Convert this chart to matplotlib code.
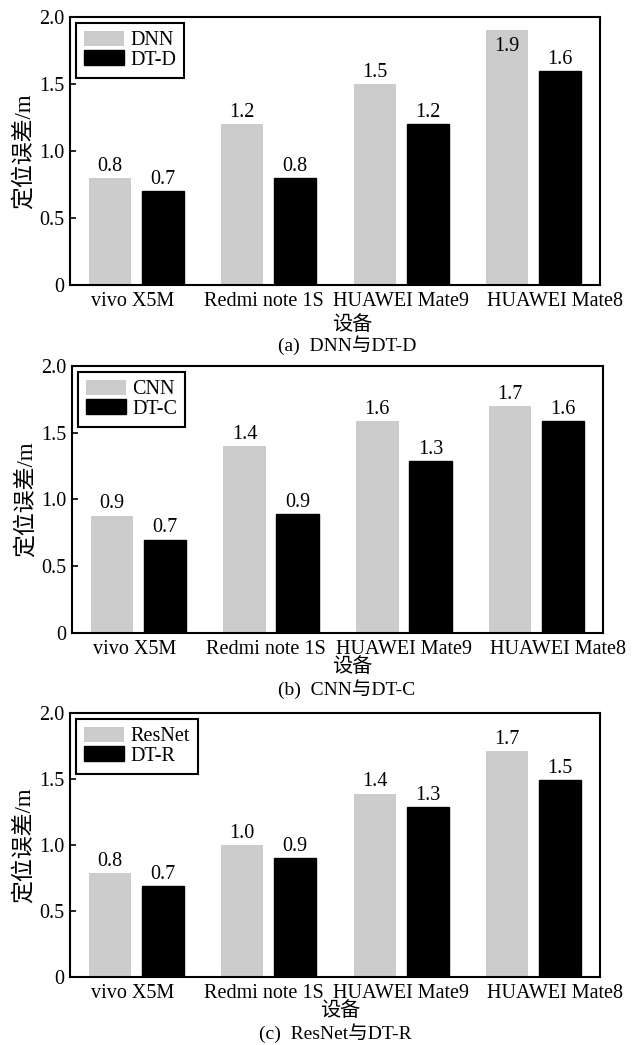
import matplotlib
matplotlib.use("Agg")
import matplotlib.pyplot as plt
import numpy as np
from matplotlib.ticker import FuncFormatter

plt.rcParams['font.family'] = ['Liberation Serif', 'Noto Sans CJK SC']
plt.rcParams['font.size'] = 14.5

devices = ["vivo X5M", "Redmi note 1S", "HUAWEI Mate9", "HUAWEI Mate8"]

base_names = ["DNN", "CNN", "ResNet"]
dt_names = ["DT-D", "DT-C", "DT-R"]
captions = ["(a)  DNN与DT-D", "(b)  CNN与DT-C", "(c)  ResNet与DT-R"]

dnn = [0.80, 1.20, 1.50, 1.90]
dt_d = [0.70, 0.80, 1.20, 1.60]
cnn = [0.88, 1.40, 1.59, 1.70]
dt_c = [0.70, 0.89, 1.29, 1.59]
resnet = [0.79, 1.00, 1.39, 1.71]
dt_r = [0.69, 0.90, 1.29, 1.49]

base_series = [dnn, cnn, resnet]
dt_series = [dt_d, dt_c, dt_r]

W, H = 640, 1045
fig = plt.figure(figsize=(W / 100, H / 100), dpi=100)

# axes boxes in pixels: left, right, top, bottom
boxes = [(70, 600, 17, 285), (72, 603, 366, 633), (70, 600, 713, 977)]
xlab_y = [325, 668, 1011]
cap_y = [345, 689, 1033]
xlab_x = [352, 352, 340]

gray = "#cccccc"
bw = 0.32
off = 0.2
label_pos = [-0.03, 0.96, 2.0, 3.16]

for i in range(3):
    l, r, t, b = boxes[i]
    ax = fig.add_axes([l / W, 1 - b / H, (r - l) / W, (b - t) / H])
    x = np.arange(len(devices))
    ax.bar(x - off, base_series[i], bw, color=gray, edgecolor="none", label=base_names[i])
    ax.bar(x + off, dt_series[i], bw, color="black", edgecolor="black", label=dt_names[i])
    for xs, vals in ((x - off, base_series[i]), (x + off, dt_series[i])):
        for xx, v in zip(xs, vals):
            if v > 1.82:
                ax.annotate(f"{v:.1f}", (xx, v), xytext=(0, -5), textcoords="offset points",
                            ha="center", va="top")
            else:
                ax.annotate(f"{v:.1f}", (xx, v), xytext=(0, 1.5), textcoords="offset points",
                            ha="center", va="bottom")
    ax.set_xlim(-0.5, 3.5)
    ax.set_ylim(0, 2.0)
    ax.set_yticks([0, 0.5, 1.0, 1.5, 2.0])
    ax.yaxis.set_major_formatter(FuncFormatter(lambda v, p: "0" if v == 0 else f"{v:.1f}"))
    ax.set_xticks(label_pos)
    ax.set_xticklabels(devices)
    ax.tick_params(axis="x", length=0, pad=5)
    ax.tick_params(axis="y", direction="in", length=4, width=1.2, pad=4)
    for s in ax.spines.values():
        s.set_linewidth(1.5)
    ax.set_ylabel("定位误差/m", fontsize=16.5, labelpad=3)
    leg = ax.legend(loc="upper left", handlelength=2.0, handleheight=0.75,
                    handletextpad=0.3, labelspacing=0.0, borderpad=0.4,
                    borderaxespad=0.3, fancybox=False, framealpha=1)
    leg.get_frame().set_edgecolor("black")
    leg.get_frame().set_linewidth(1.5)
    fig.text(xlab_x[i] / W, 1 - xlab_y[i] / H, "设备", ha="center", va="center", fontsize=14.5)
    fig.text(xlab_x[i] / W - 0.008, 1 - cap_y[i] / H, captions[i], ha="center", va="center", fontsize=14)

fig.savefig("out.png", dpi=100)
